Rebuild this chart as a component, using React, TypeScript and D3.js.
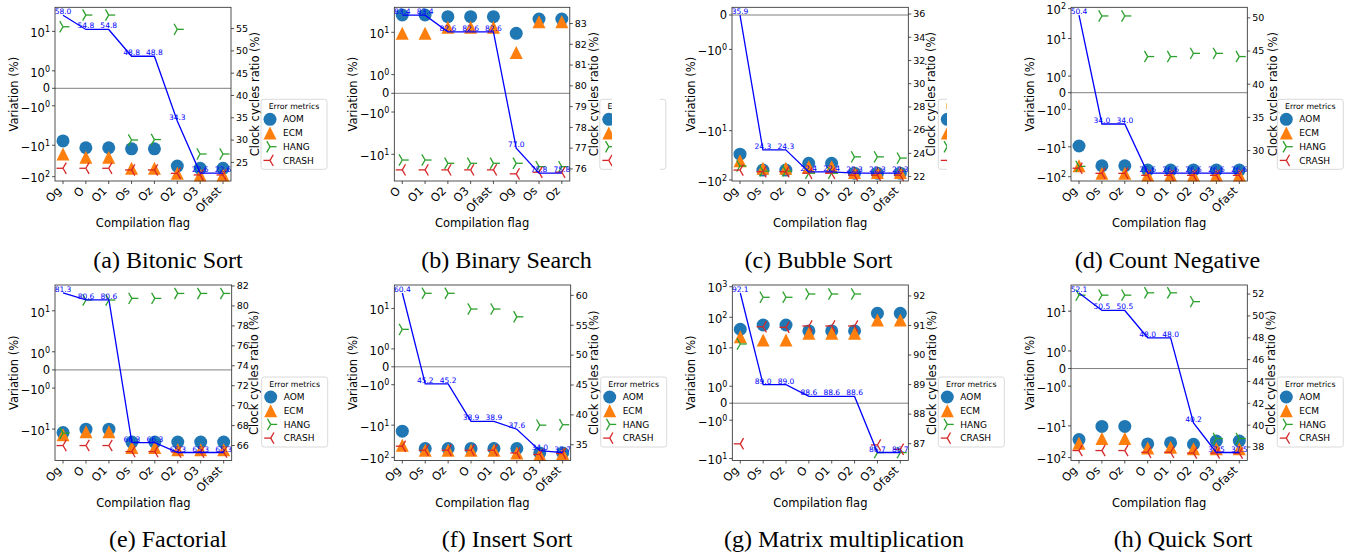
import React from 'react';
import * as d3 from 'd3';

// ---------- DATA ----------
const catsA = ['Og', 'O', 'O1', 'Os', 'Oz', 'O2', 'O3', 'Ofast'];
const aomA = [-7.3, -12, -12, -13, -13, -46, -54, -54];
const ecmA = [-19, -24, -24, -54, -54, -78, -88, -88];
const hangA = [14, 33, 33, -6.8, -6.6, 11.6, -19, -19];
const crashA = [-54, -54, -54, -61, -61, -78, -88, -88];
const clockA = [58.0, 54.8, 54.8, 48.8, 48.8, 34.3, 22.6, 22.6];

const catsB = ['O', 'O1', 'O2', 'O3', 'Ofast', 'Og', 'Os', 'Oz'];
const aomB = [32.6, 32.6, 29, 29, 29, 9.3, 24.8, 24.8];
const ecmB = [9.3, 9.3, 14.1, 14.1, 14.1, 2.5, 20.6, 20.6];
const hangB = [-14.8, -14.8, -18.5, -18.5, -18.5, -18.5, -23.3, -23.3];
const crashB = [-29, -29, -29, -29, -29, -38, -34, -34];
const clockB = [83.4, 83.4, 82.6, 82.6, 82.6, 77.0, 75.8, 75.8];

const catsC = ['Og', 'Os', 'Oz', 'O', 'O1', 'O2', 'O3', 'Ofast'];
const aomC = [-30, -63, -63, -46, -46, -73, -73, -73];
const ecmC = [-41, -58, -58, -54, -54, -71, -71, -71];
const hangC = [-52, -66, -66, -73, -73, -34, -34, -36];
const crashC = [-63, -68, -68, -73, -73, -80, -80, -80];
const clockC = [35.9, 24.3, 24.3, 22.4, 22.4, 22.3, 22.3, 22.3];

const catsD = ['Og', 'Os', 'Oz', 'O', 'O1', 'O2', 'O3', 'Ofast'];
const aomD = [-9.4, -43, -43, -60, -60, -60, -60, -60];
const ecmD = [-43, -77, -77, -88, -88, -88, -88, -88];
const hangD = [-45, 57, 57, 2.5, 2.5, 3.2, 3.2, 2.5];
const crashD = [-52, -77, -77, -90, -90, -90, -90, -90];
const clockD = [50.4, 34.0, 34.0, 26.6, 26.6, 26.6, 26.6, 26.6];

const catsE = ['Og', 'O', 'O1', 'Os', 'Oz', 'O2', 'O3', 'Ofast'];
const aomE = [-12.8, -10.1, -10.1, -25, -25, -25, -25, -25];
const ecmE = [-15, -12, -12, -37, -37, -43, -43, -43];
const hangE = [-13.4, 21.4, 21.4, 24, 24, 34, 34, 34];
const crashE = [-32, -32, -32, -49, -49, -51, -51, -51];
const clockE = [81.3, 80.6, 80.6, 66.3, 66.3, 65.3, 65.3, 65.3];

const catsF = ['Og', 'Os', 'Oz', 'O', 'O1', 'O2', 'O3', 'Ofast'];
const aomF = [-15.4, -53, -53, -53, -53, -53, -73, -73];
const ecmF = [-42, -60, -60, -60, -60, -73, -81, -76];
const hangF = [2.25, 29.5, 29.5, 9.6, 9.6, 5.5, -10, -9.7];
const crashF = [-45, -60, -60, -60, -60, -73, -81, -76];
const clockF = [60.4, 45.2, 45.2, 38.9, 38.9, 37.6, 34.0, 33.7];

const catsG = ['Og', 'Os', 'Oz', 'O', 'O1', 'O2', 'O3', 'Ofast'];
const aomG = [40.6, 56, 56, 35.7, 35.7, 35.7, 135, 135];
const ecmG = [23.3, 18.1, 18.1, 30, 30, 30, 82, 82];
const hangG = [13.4, 451, 451, 578, 578, 578, -6.4, -6.4];
const crashG = [-3.3, 49, 47, 52, 52, 52, -3.6, -5];
const clockG = [92.1, 89.0, 89.0, 88.6, 88.6, 88.6, 86.7, 86.7];

const catsH = ['Og', 'Os', 'Oz', 'O', 'O1', 'O2', 'O3', 'Ofast'];
const aomH = [-27, -10.4, -10.4, -37, -34, -38, -30, -30];
const ecmH = [-35, -25, -25, -50, -47, -53, -53, -53];
const hangH = [32, 32, 32, 38, 38, 20, -25, -25];
const crashH = [-60, -60, -60, -68, -68, -72, -72, -72];
const clockH = [52.1, 50.5, 50.5, 48.0, 48.0, 40.2, 37.5, 37.5];

const captions = [
  '(a) Bitonic Sort', '(b) Binary Search', '(c) Bubble Sort', '(d) Count Negative',
  '(e) Factorial', '(f) Insert Sort', '(g) Matrix multiplication', '(h) Quick Sort',
];
const legendLabels = ['AOM', 'ECM', 'HANG', 'CRASH'];
const symTicks = [-1000, -100, -10, -1, 0, 1, 10, 100, 1000];

// ---------- STYLE / LAYOUT ----------
const COLORS = { aom: '#1f77b4', ecm: '#ff7f0e', hang: '#2ca02c', crash: '#d62728' };
const FONT = 'DejaVu Sans, sans-serif';
const TOP = { y: 7.3, h: 173.7 };
const BOT = { y: 285, h: 175.5 };

const panels = [
  { cats: catsA, aom: aomA, ecm: ecmA, hang: hangA, crash: crashA, clock: clockA, yLim: [-137, 58.2], L: 2, s: 1, x: 55, w: 176, row: TOP, cap: [168, 268], rOff: 24 },
  { cats: catsB, aom: aomB, ecm: ecmB, hang: hangB, crash: crashB, clock: clockB, yLim: [-62, 55.2], L: 2, s: 1, x: 394.3, w: 175.5, row: TOP, cap: [506.5, 268], rOff: 24.5, cover: [612, 660] },
  { cats: catsC, aom: aomC, ecm: ecmC, hang: hangC, crash: crashC, clock: clockC, yLim: [-105, 0.224], L: 2.5, s: 1.57, x: 732, w: 176.3, row: TOP, cap: [818.5, 268], rOff: 22.5, cover: [947, 1012] },
  { cats: catsD, aom: aomD, ecm: ecmD, hang: hangD, crash: crashD, clock: clockD, yLim: [-139, 111], L: 2, s: 1, x: 1071, w: 176.3, row: TOP, cap: [1167.5, 268], rOff: 25.5 },
  { cats: catsE, aom: aomE, ecm: ecmE, hang: hangE, crash: crashE, clock: clockE, yLim: [-91.8, 61.6], L: 2, s: 1, x: 55, w: 176.7, row: BOT, cap: [168, 547], rOff: 22.5 },
  { cats: catsF, aom: aomF, ecm: ecmF, hang: hangF, crash: crashF, clock: clockF, yLim: [-125, 53.4], L: 2, s: 1, x: 394.3, w: 176.4, row: BOT, cap: [507, 547], rOff: 23 },
  { cats: catsG, aom: aomG, ecm: ecmG, hang: hangG, crash: crashG, clock: clockG, yLim: [-11.6, 1138], L: 2, s: 1, x: 732.3, w: 176, row: BOT, cap: [844, 547], rOff: 23.5 },
  { cats: catsH, aom: aomH, ecm: ecmH, hang: hangH, crash: crashH, clock: clockH, yLim: [-123.6, 67], L: 2, s: 1, x: 1071, w: 176.3, row: BOT, cap: [1183, 547], rOff: 23.5 },
];

function symT(v: number, L: number, s: number) {
  const k = s / (1 - 1 / 10);
  const a = Math.abs(v);
  if (a <= L) return v * k;
  return Math.sign(v) * L * (k + Math.log10(a / L));
}

const R = 6.5;
const triPath = `M0,${-R}L${-R},${R}L${R},${R}Z`;
function Tri({ x, y, dir, color }: any) {
  const s = dir === 'right' ? 1 : -1;
  const a = R;
  return (
    <g transform={`translate(${x},${y})`} stroke={color} strokeWidth={1.3} fill="none">
      <line x1={0} y1={0} x2={s * a} y2={0} />
      <line x1={0} y1={0} x2={-s * a * 0.5} y2={-a * 0.866} />
      <line x1={0} y1={0} x2={-s * a * 0.5} y2={a * 0.866} />
    </g>
  );
}

function PowLabel({ v }: { v: number }) {
  if (v === 0) return <>0</>;
  const e = Math.round(Math.log10(Math.abs(v)));
  return (
    <>
      {v < 0 ? '\u2212' : ''}10<tspan dy={-5} fontSize={8}>{e}</tspan>
    </>
  );
}

function Panel({ p, idx }: any) {
  const x0 = p.x, w = p.w, y0 = p.row.y, h = p.row.h;
  const T = (v: number) => symT(v, p.L, p.s);
  const xs = d3.scalePoint<string>().domain(p.cats).range([x0, x0 + w]).padding(0.35);
  const yLin = d3.scaleLinear().domain([T(p.yLim[0]), T(p.yLim[1])]).range([y0 + h, y0]);
  const yL = (v: number) => yLin(T(v));
  const [cmin, cmax] = d3.extent(p.clock as number[]) as [number, number];
  const pad = (cmax - cmin) * 0.05;
  const yR = d3.scaleLinear().domain([cmin - pad, cmax + pad]).range([y0 + h, y0]);
  const rTicks = yR.ticks(8);
  const lTicks = symTicks.filter((v) => T(v) >= T(p.yLim[0]) && T(v) <= T(p.yLim[1]));
  const line = d3.line<number>().x((_, i) => xs(p.cats[i]) as number).y((d) => yR(d));
  const axColor = '#262626';
  const lg = { x: x0 + w + 30, y: y0 + 92, w: 66, h: 70 };
  const cy = y0 + h / 2;

  return (
    <g>
      <text transform={`translate(${x0 - 41},${cy}) rotate(-90)`} textAnchor="middle" dy="0.35em" fontSize={11.5} fontFamily={FONT} fill="#000">Variation (%)</text>
      {lTicks.map((v) => (
        <g key={v}>
          <line x1={x0 - 3} x2={x0} y1={yL(v)} y2={yL(v)} stroke={axColor} strokeWidth={0.8} />
          <text x={x0 - 5} y={yL(v)} dy={v === 0 ? '0.35em' : '0.5em'} textAnchor="end" fontSize={11.5} fontFamily={FONT} fill="#000">
            <PowLabel v={v} />
          </text>
        </g>
      ))}
      {p.cats.map((c: string) => (
        <g key={c}>
          <line x1={xs(c)} x2={xs(c)} y1={y0 + h} y2={y0 + h + 3} stroke={axColor} strokeWidth={0.8} />
          <text transform={`translate(${(xs(c) as number) - 1},${y0 + h + 10.5}) rotate(-45)`} textAnchor="end" fontSize={11.5} fontFamily={FONT} fill="#000">{c}</text>
        </g>
      ))}
      <text x={x0 + w / 2} y={y0 + h + 46} textAnchor="middle" fontSize={11.5} fontFamily={FONT} fill="#000">Compilation flag</text>

      {p.aom.map((v: number, i: number) => (
        <circle key={'a' + i} cx={xs(p.cats[i])} cy={yL(v)} r={R} fill={COLORS.aom} />
      ))}
      {p.ecm.map((v: number, i: number) => (
        <path key={'e' + i} d={triPath} transform={`translate(${xs(p.cats[i])},${yL(v)})`} fill={COLORS.ecm} />
      ))}
      {p.hang.map((v: number, i: number) => (
        <Tri key={'h' + i} x={xs(p.cats[i])} y={yL(v)} dir="right" color={COLORS.hang} />
      ))}
      {p.crash.map((v: number, i: number) => (
        <Tri key={'c' + i} x={xs(p.cats[i])} y={yL(v)} dir="left" color={COLORS.crash} />
      ))}
      <line x1={x0} x2={x0 + w} y1={yL(0)} y2={yL(0)} stroke="#808080" strokeWidth={1} />

      <path d={line(p.clock) as string} fill="none" stroke="#0000ff" strokeWidth={1.3} />
      {p.clock.map((v: number, i: number) => (
        <text key={'t' + i} x={xs(p.cats[i])} y={yR(v) - 1} textAnchor="middle" fontSize={7.5} fontFamily={FONT} fill="#0000ff">{v.toFixed(1)}</text>
      ))}
      {rTicks.map((v) => (
        <g key={'r' + v}>
          <line x1={x0 + w} x2={x0 + w + 3} y1={yR(v)} y2={yR(v)} stroke={axColor} strokeWidth={0.8} />
          <text x={x0 + w + 5} y={yR(v)} dy="0.35em" fontSize={9.5} fontFamily={FONT} fill="#000">{v}</text>
        </g>
      ))}
      <text transform={`translate(${x0 + w + p.rOff},${cy}) rotate(-90)`} textAnchor="middle" dy="0.35em" fontSize={11.5} fontFamily={FONT} fill="#000">Clock cycles ratio (%)</text>

      <rect x={x0} y={y0} width={w} height={h} fill="none" stroke={axColor} strokeWidth={0.8} />

      <g>
        <rect x={lg.x} y={lg.y} width={lg.w} height={lg.h} rx={2.5} fill="#fff" fillOpacity={0.85} stroke="#d0d0d0" strokeWidth={0.8} />
        <text x={lg.x + lg.w / 2} y={lg.y + 9.5} textAnchor="middle" fontSize={7.8} fontFamily={FONT} fill="#000">Error metrics</text>
        {legendLabels.map((lab, i) => {
          const ly = lg.y + 20 + i * 13.7;
          const mx = lg.x + 9;
          return (
            <g key={lab}>
              {i === 0 && <circle cx={mx} cy={ly} r={R} fill={COLORS.aom} />}
              {i === 1 && <path d={triPath} transform={`translate(${mx},${ly})`} fill={COLORS.ecm} />}
              {i === 2 && <Tri x={mx} y={ly} dir="right" color={COLORS.hang} />}
              {i === 3 && <Tri x={mx} y={ly} dir="left" color={COLORS.crash} />}
              <text x={lg.x + 22} y={ly} dy="0.35em" fontSize={9} fontFamily={FONT} fill="#000">{lab}</text>
            </g>
          );
        })}
      </g>
      {p.cover && <rect x={p.cover[0]} y={lg.y - 2} width={p.cover[1] - p.cover[0]} height={lg.h + 4} fill="#fff" />}

      <text x={p.cap[0]} y={p.cap[1]} textAnchor="middle" fontSize={24} fontFamily="Liberation Serif, Times New Roman, serif" fill="#000">{captions[idx]}</text>
    </g>
  );
}

export default function App() {
  return (
    <div style={{ position: 'absolute', left: 0, top: 0 }}>
      <svg width={1357} height={557} style={{ display: 'block', background: '#fff' }}>
        <rect x={0} y={0} width={1357} height={557} fill="#fff" />
        {panels.map((p, i) => (
          <Panel key={i} p={p} idx={i} />
        ))}
      </svg>
    </div>
  );
}
